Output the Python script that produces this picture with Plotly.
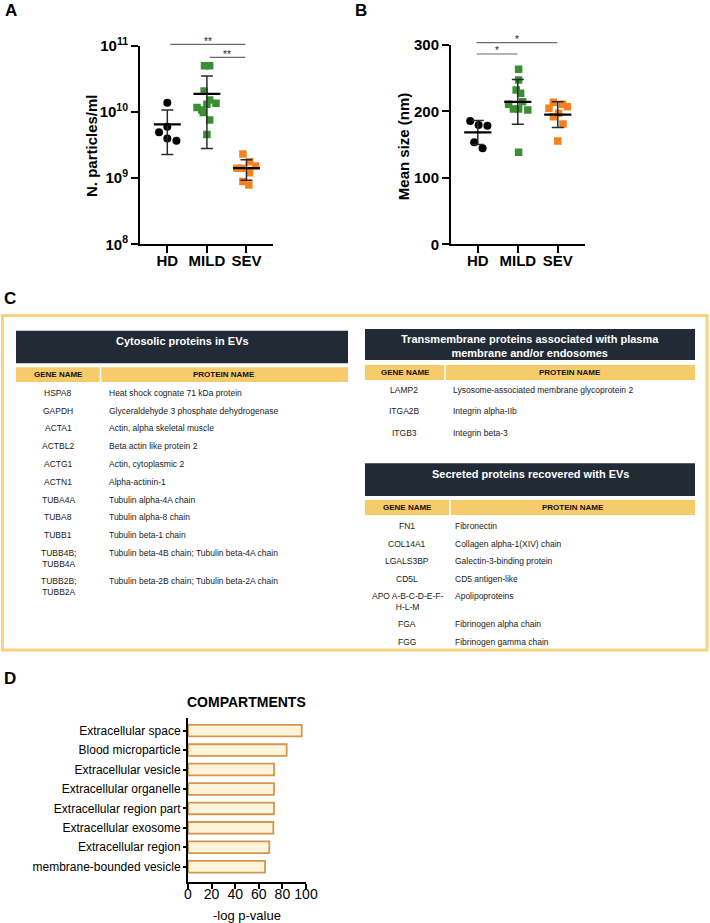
import plotly.graph_objects as go
import numpy as np

W, H = 710, 923
FONT = "Liberation Sans, Arial, sans-serif"

# ---------------- DATA ----------------
groups = ["HD", "MILD", "SEV"]

# Panel A: N. particles/ml (values), with horizontal scatter offsets
a_hd = [1.39e10, 6.0e9, 4.95e9, 4.0e9, 3.7e9]
a_hd_jit = [0.0, 0.0, -0.21, 0.0, 0.23]
a_mild = [5.04e10, 5.04e10, 2.08e10, 1.52e10, 1.36e10, 1.31e10, 1.17e10, 1.08e10, 9.9e9, 7.6e9, 4.6e9]
a_mild_jit = [-0.06, 0.07, -0.07, 0.07, 0.23, 0.0, -0.25, -0.13, -0.09, 0.07, 0.0]
a_sev = [2.32e9, 1.78e9, 1.53e9, 1.41e9, 1.41e9, 1.21e9, 8.9e8, 7.9e8]
a_sev_jit = [-0.09, 0.08, 0.23, -0.24, -0.12, 0.08, -0.09, 0.06]
a_ticks = [1e8, 1e9, 1e10, 1e11]
a_ticktext = ["10<sup>8</sup>", "10<sup>9</sup>", "10<sup>10</sup>", "10<sup>11</sup>"]

# Panel B: Mean size (nm)
b_hd = [185.6, 179.6, 178.5, 153.5, 144.5]
b_hd_jit = [-0.19, 0.02, 0.24, -0.09, 0.12]
b_mild = [263.4, 247.3, 232.3, 227.3, 214.7, 210.7, 203.7, 203.7, 202.2, 138.5]
b_mild_jit = [0.02, 0.02, -0.04, 0.07, 0.12, -0.23, -0.11, 0.02, 0.25, 0.02]
b_sev = [213.8, 210.7, 207.2, 204.7, 197.2, 192.1, 181.1, 155.5]
b_sev_jit = [-0.11, 0.12, 0.24, -0.22, 0.02, -0.11, 0.13, 0.0]
b_ticks = [0, 100, 200, 300]

# Significance brackets: (group_from, group_to, label)
a_sig = [(0, 2, "**"), (1, 2, "**")]
b_sig = [(0, 2, "*"), (0, 1, "*")]

# Panel C tables
cyto_title = "Cytosolic proteins in EVs"
cyto_genes = ["HSPA8", "GAPDH", "ACTA1", "ACTBL2", "ACTG1", "ACTN1", "TUBA4A", "TUBA8", "TUBB1",
              "TUBB4B;<br>TUBB4A", "TUBB2B;<br>TUBB2A"]
cyto_proteins = ["Heat shock cognate 71 kDa protein", "Glyceraldehyde 3 phosphate dehydrogenase",
                 "Actin, alpha skeletal muscle", "Beta actin like protein 2", "Actin, cytoplasmic 2",
                 "Alpha-actinin-1", "Tubulin alpha-4A chain", "Tubulin alpha-8 chain", "Tubulin beta-1 chain",
                 "Tubulin beta-4B chain; Tubulin beta-4A chain", "Tubulin beta-2B chain; Tubulin beta-2A chain"]
tm_title = "Transmembrane proteins associated with plasma<br>membrane and/or endosomes"
tm_genes = ["LAMP2", "ITGA2B", "ITGB3"]
tm_proteins = ["Lysosome-associated membrane glycoprotein 2", "Integrin alpha-IIb", "Integrin beta-3"]
sec_title = "Secreted proteins recovered with EVs"
sec_genes = ["FN1", "COL14A1", "LGALS3BP", "CD5L", "APO A-B-C-D-E-F-<br>H-L-M", "FGA", "FGG"]
sec_proteins = ["Fibronectin", "Collagen alpha-1(XIV) chain", "Galectin-3-binding protein", "CD5 antigen-like",
                "Apolipoproteins", "Fibrinogen alpha chain", "Fibrinogen gamma chain"]

# Panel D
compartments = ["Extracellular space", "Blood microparticle", "Extracellular vesicle", "Extracellular organelle",
                "Extracellular region part", "Extracellular exosome", "Extracellular region",
                "membrane-bounded vesicle"]
neg_log_p = [96.4, 83.6, 72.9, 72.9, 72.9, 72.3, 68.9, 65.3]
d_ticks = [0, 20, 40, 60, 80, 100]

# ---------------- HELPERS ----------------
def X(px):
    return px / W

def Y(py):
    return 1 - py / H

BLACK = "#000000"
GREEN = "#3a8f35"
ORANGE = "#f5821f"
DARK = "#222a36"
GOLD = "#f8cb6a"
BOX = "#fad27e"

fig = go.Figure()
annotations = []
shapes = []

def dot_panel(xa, ya, data, jits, symbols, colors, sizes):
    for i, (vals, jit, sym, col, sz) in enumerate(zip(data, jits, symbols, colors, sizes)):
        fig.add_trace(go.Scatter(
            x=[i + j for j in jit], y=vals, mode="markers", xaxis=xa, yaxis=ya,
            marker=dict(symbol=sym, color=col, size=sz, line=dict(width=0)),
            showlegend=False, hoverinfo="skip"))
    for i, vals in enumerate(data):
        arr = np.array(vals, dtype=float)
        m = arr.mean()
        sd = arr.std(ddof=1)
        fig.add_trace(go.Scatter(
            x=[i], y=[m], mode="markers", xaxis=xa, yaxis=ya,
            marker=dict(size=1, color="rgba(0,0,0,0)"),
            error_y=dict(type="data", symmetric=True, array=[sd], color="#2a2a2a", thickness=1.5, width=6),
            showlegend=False, hoverinfo="skip"))
        fig.add_trace(go.Scatter(
            x=[i - 0.34, i + 0.34], y=[m, m], mode="lines", xaxis=xa, yaxis=ya,
            line=dict(color=BLACK, width=2.2), showlegend=False, hoverinfo="skip"))

dot_panel("x", "y", [a_hd, a_mild, a_sev], [a_hd_jit, a_mild_jit, a_sev_jit],
          ["circle", "square", "square"], [BLACK, GREEN, ORANGE], [8, 7.5, 7.5])
dot_panel("x2", "y2", [b_hd, b_mild, b_sev], [b_hd_jit, b_mild_jit, b_sev_jit],
          ["circle", "square", "square"], [BLACK, GREEN, ORANGE], [8, 7.5, 7.5])

# Panel D bars
fig.add_trace(go.Bar(
    x=neg_log_p, y=compartments, orientation="h", xaxis="x3", yaxis="y3",
    marker=dict(color="#fdf4d9", line=dict(color="#d4964d", width=1.8)),
    textposition="none", showlegend=False, hoverinfo="skip"))

# significance brackets
def brackets(xref, sig, ys_line, ys_text, xoff0, xoff1, fs):
    for (g0, g1, lab), yl, yt in zip(sig, ys_line, ys_text):
        shapes.append(dict(type="line", xref=xref, yref="paper", x0=g0 + xoff0, x1=g1 + xoff1,
                           y0=Y(yl), y1=Y(yl), line=dict(color="#6b6b6b", width=1.2)))
        annotations.append(dict(xref=xref, yref="paper", x=(g0 + g1 + xoff0 + xoff1) / 2, y=Y(yt),
                                text=lab, showarrow=False, font=dict(family=FONT, size=10, color="#222"),
                                xanchor="center", yanchor="middle"))

brackets("x", a_sig, [44.3, 57.3], [41.5, 54.5], 0.07, -0.03, 10)
brackets("x2", b_sig, [42.7, 54.0], [39.5, 50.8], -0.03, -0.01, 10)

# axes
ax_common = dict(showgrid=False, zeroline=False, showline=True, linecolor=BLACK, linewidth=2,
                 ticks="outside", tickcolor=BLACK, tickwidth=2, ticklen=7, mirror=False, automargin=False)
bold_tick = dict(family=FONT, size=15, color=BLACK, weight=700)

layout = dict(
    width=W, height=H, margin=dict(l=0, r=0, t=0, b=0, pad=0, autoexpand=False),
    paper_bgcolor="white", plot_bgcolor="white",
    xaxis=dict(domain=[X(140), X(273)], anchor="y", range=[-0.69, 2.67], ticklabelstandoff=-5,
               tickmode="array", tickvals=[0, 1, 2], ticktext=groups, tickfont=bold_tick, **ax_common),
    yaxis=dict(domain=[Y(244.3), Y(46)], anchor="x", type="log", range=[8, 11],
               tickmode="array", tickvals=a_ticks, ticktext=a_ticktext, tickfont=bold_tick, **ax_common),
    xaxis2=dict(domain=[X(451), X(585)], anchor="y2", range=[-0.67, 2.68], ticklabelstandoff=-5,
                tickmode="array", tickvals=[0, 1, 2], ticktext=groups, tickfont=bold_tick, **ax_common),
    yaxis2=dict(domain=[Y(244.3), Y(45)], anchor="x2", range=[0, 300],
                tickmode="array", tickvals=b_ticks, tickfont=bold_tick, **ax_common),
    xaxis3=dict(domain=[X(188), X(306)], anchor="y3", range=[0, 100], ticklabelstandoff=-7,
                tickmode="array", tickvals=d_ticks, tickfont=dict(family=FONT, size=14, color=BLACK),
                showgrid=False, zeroline=False, showline=True, linecolor=BLACK, linewidth=2,
                ticks="outside", tickcolor=BLACK, tickwidth=1.5, ticklen=5, automargin=False),
    yaxis3=dict(domain=[Y(881.7), Y(718)], anchor="x3", type="category", categoryarray=compartments,
                categoryorder="array", range=[7.77, -0.65],
                tickfont=dict(family=FONT, size=12, color=BLACK),
                showgrid=False, zeroline=False, showline=True, linecolor=BLACK, linewidth=2,
                ticks="outside", tickcolor=BLACK, tickwidth=1.5, ticklen=3, automargin=False),
    bargap=0.4,
)

# axis titles
annotations.append(dict(xref="paper", yref="paper", x=X(91), y=Y(146), text="N. particles/ml", textangle=-90,
                        showarrow=False, font=dict(family=FONT, size=15, color=BLACK, weight=700),
                        xanchor="center", yanchor="middle"))
annotations.append(dict(xref="paper", yref="paper", x=X(403.5), y=Y(146.7), text="Mean size (nm)", textangle=-90,
                        showarrow=False, font=dict(family=FONT, size=15, color=BLACK, weight=700),
                        xanchor="center", yanchor="middle"))
annotations.append(dict(xref="paper", yref="paper", x=X(246.5), y=Y(701.7), text="COMPARTMENTS",
                        showarrow=False, font=dict(family=FONT, size=14, color=BLACK, weight=700),
                        xanchor="center", yanchor="middle"))
annotations.append(dict(xref="paper", yref="paper", x=X(246.7), y=Y(915), text="-log p-value",
                        showarrow=False, font=dict(family=FONT, size=13, color=BLACK),
                        xanchor="center", yanchor="middle"))

# panel letters
for lab, px, py in [("A", 3, 11), ("B", 353, 11), ("C", 2, 298.5), ("D", 2, 678.5)]:
    annotations.append(dict(xref="paper", yref="paper", x=X(px), y=Y(py), text=lab, showarrow=False,
                            font=dict(family=FONT, size=17, color=BLACK, weight=700),
                            xanchor="left", yanchor="middle"))

# ---------------- Panel C tables ----------------
shapes.append(dict(type="rect", xref="paper", yref="paper", x0=X(2.5), x1=X(707), y0=Y(650), y1=Y(315.5),
                   line=dict(color=BOX, width=3), fillcolor="rgba(0,0,0,0)", layer="below"))

def table(x0, x1, xsplit, hdr, gold, title, title_y, genes, proteins, gene_cx, prot_x, y_first, step, extra):
    shapes.append(dict(type="rect", xref="paper", yref="paper", x0=X(x0), x1=X(x1), y0=Y(hdr[1]), y1=Y(hdr[0]),
                       line=dict(width=0), fillcolor=DARK, layer="below"))
    shapes.append(dict(type="rect", xref="paper", yref="paper", x0=X(x0), x1=X(xsplit - 0.8), y0=Y(gold[1]),
                       y1=Y(gold[0]), line=dict(width=0), fillcolor=GOLD, layer="below"))
    shapes.append(dict(type="rect", xref="paper", yref="paper", x0=X(xsplit + 0.8), x1=X(x1), y0=Y(gold[1]),
                       y1=Y(gold[0]), line=dict(width=0), fillcolor=GOLD, layer="below"))
    annotations.append(dict(xref="paper", yref="paper", x=X((x0 + x1) / 2), y=Y(title_y), text=title,
                            showarrow=False, font=dict(family=FONT, size=11, color="white", weight=700),
                            xanchor="center", yanchor="middle"))
    gy = (gold[0] + gold[1]) / 2
    annotations.append(dict(xref="paper", yref="paper", x=X((x0 + xsplit) / 2), y=Y(gy), text="GENE NAME",
                            showarrow=False, font=dict(family=FONT, size=8, color="#111", weight=700),
                            xanchor="center", yanchor="middle"))
    annotations.append(dict(xref="paper", yref="paper", x=X((xsplit + x1) / 2), y=Y(gy), text="PROTEIN NAME",
                            showarrow=False, font=dict(family=FONT, size=8, color="#111", weight=700),
                            xanchor="center", yanchor="middle"))
    y = y_first
    for g, p in zip(genes, proteins):
        nl = g.count("<br>") + 1
        annotations.append(dict(xref="paper", yref="paper", x=X(gene_cx), y=Y(y - 6), text=g, showarrow=False,
                                font=dict(family=FONT, size=8.5, color="#1a1a1a"), xanchor="center",
                                yanchor="top", align="center"))
        annotations.append(dict(xref="paper", yref="paper", x=X(prot_x), y=Y(y - 6), text=p, showarrow=False,
                                font=dict(family=FONT, size=8.5, color="#1a1a1a"), xanchor="left",
                                yanchor="top", align="left"))
        y += step + (nl - 1) * extra

table(16, 348, 100.5, (330.7, 363.3), (367.3, 382), cyto_title, 340.7, cyto_genes, cyto_proteins,
      58.3, 106.5, 391.7, 17.8, 10)
table(365, 695, 445, (329, 360), (365, 380), tm_title, 345.7, tm_genes, tm_proteins,
      404.3, 451.0, 389.3, 21.2, 10)
table(365, 695, 450, (463.3, 496), (500, 515), sec_title, 474, sec_genes, sec_proteins,
      407.3, 452.5, 525, 17.6, 10)

layout["annotations"] = annotations
layout["shapes"] = shapes
fig.update_layout(**layout)
fig.write_html("out.html")
